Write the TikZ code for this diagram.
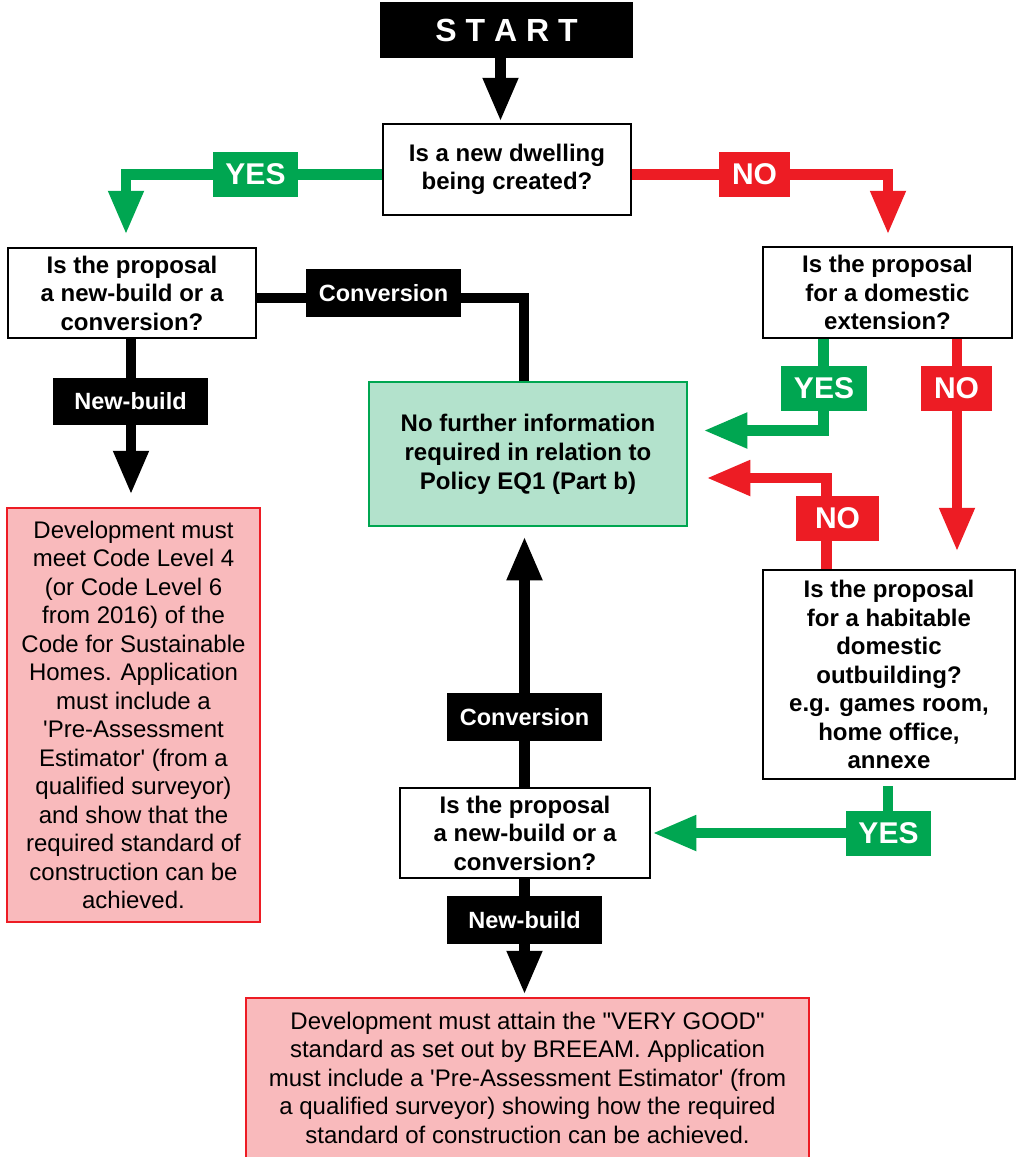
\documentclass[tikz,border=0pt]{standalone}
\usepackage{fontspec}
\newfontfamily\af{Liberation Sans}
\usetikzlibrary{arrows.meta}
\definecolor{gr}{RGB}{0,166,81}
\definecolor{rd}{RGB}{237,28,36}
\definecolor{pinkf}{RGB}{249,186,188}
\definecolor{mint}{RGB}{179,226,204}
\begin{document}
\begin{tikzpicture}[x=1pt,y=-1pt,font=\af,
  qbox/.style={draw=black,line width=2.5pt,fill=white,align=center,inner sep=0pt,
    font=\af\bfseries\fontsize{24}{28.5}\selectfont},
  pbox/.style={draw=rd,line width=2.5pt,fill=pinkf,align=center,inner sep=0pt,
    font=\af\fontsize{24}{28.5}\selectfont},
  gbox/.style={draw=gr,line width=2.5pt,fill=mint,align=center,inner sep=0pt,
    font=\af\bfseries\fontsize{24}{29}\selectfont},
  startbox/.style={fill=black,text=white,inner sep=0pt,
    font=\af\bfseries\fontsize{32}{36}\selectfont},
  lab/.style={fill=black,text=white,inner sep=0pt,
    font=\af\bfseries\fontsize{23.5}{28}\selectfont},
  yn/.style={text=white,inner sep=0pt,
    font=\af\bfseries\fontsize{30}{34}\selectfont},
  conn/.style={line width=10.5pt},
  tip/.style={-{Triangle[width=33pt,length=44pt]}}
]
\useasboundingbox (0,0) rectangle (1020,1157);
\clip (0,0) rectangle (1020,1157);
\fill[white] (0,0) rectangle (1020,1157);

% main boxes
\node[startbox,minimum width=253pt,minimum height=56pt] (start) at (506.5,30) {S T A R T};
\node[qbox,minimum width=248pt,minimum height=91pt] (q1) at (507,169.5) {Is a new dwelling\\being created?};
\node[qbox,minimum width=248pt,minimum height=90pt] (q2) at (132,293) {Is the proposal\\a new-build or a\\conversion?};
\node[qbox,minimum width=249pt,minimum height=91pt] (q3) at (887.5,292.5) {Is the proposal\\for a domestic\\extension?};
\node[gbox,minimum width=318pt,minimum height=144pt] (green) at (528,454) {No further information\\required in relation to\\Policy EQ1 (Part b)};
\node[qbox,minimum width=252pt,minimum height=209pt] (q4) at (889,674.5) {Is the proposal\\for a habitable\\domestic\\outbuilding?\\e.g. games room,\\home office,\\annexe};
\node[qbox,minimum width=250pt,minimum height=90pt] (q5) at (525,833) {Is the proposal\\a new-build or a\\conversion?};
\node[pbox,minimum width=253pt,minimum height=414pt] (pinkL) at (133.5,715) {Development must\\meet Code Level 4\\(or Code Level 6\\from 2016) of the\\Code for Sustainable\\Homes. Application\\must include a\\'Pre-Assessment\\Estimator' (from a\\qualified surveyor)\\and show that the\\required standard of\\construction can be\\achieved.};
\node[pbox,minimum width=563pt,minimum height=173pt] (pinkB) at (527.5,1084.5) {};
\node[align=center,inner sep=0pt,font=\af\fontsize{24}{28.5}\selectfont] (pinkBtext) at (527.5,1077.5) {Development must attain the "VERY GOOD"\\standard as set out by BREEAM. Application\\must include a 'Pre-Assessment Estimator' (from\\a qualified surveyor) showing how the required\\standard of construction can be achieved.};

% connectors
\draw[conn,tip] ([xshift=-6pt]start.south) -- ([xshift=-6.5pt,yshift=1pt]q1.north);
\draw[conn,gr,tip] ([yshift=-5pt]q1.west) -| ([xshift=-6pt,yshift=12pt]q2.north);
\draw[conn,rd,tip] ([yshift=-5pt]q1.east) -| ([xshift=0.5pt,yshift=11pt]q3.north);
\draw[conn,tip] ([xshift=-1pt]q2.south) -- ([xshift=-2.5pt,yshift=12pt]pinkL.north);
\draw[conn] ([xshift=-4pt]green.north) |- ([yshift=-5pt]q2.east);
\draw[conn,gr,tip] ([xshift=-64pt]q3.south) |- ([xshift=15pt,yshift=23.5pt]green.east);
\draw[conn,rd,tip] ([xshift=69.5pt]q3.south) -- ([xshift=68pt,yshift=17pt]q4.north);
\draw[conn,rd,tip] ([xshift=-62.5pt]q4.north) |- ([xshift=18pt,yshift=-24pt]green.east);
\draw[conn,gr,tip] ([xshift=-1pt,yshift=-6pt]q4.south) |- ([xshift=1pt]q5.east);
\draw[conn,tip] ([xshift=-0.5pt]q5.north) -- ([xshift=-3.5pt,yshift=-9pt]green.south);
\draw[conn,tip] ([xshift=-0.5pt]q5.south) -- ([xshift=-3pt,yshift=2pt]pinkB.north);

% labels
\node[yn,fill=gr,minimum width=85pt,minimum height=45pt] (yes1) at (255.5,174.5) {YES};
\node[yn,fill=rd,minimum width=71pt,minimum height=45pt] (no1) at (754.5,174.5) {NO};
\node[lab,minimum width=155pt,minimum height=48pt] (convT) at (383.5,293) {Conversion};
\node[lab,minimum width=155pt,minimum height=47pt] (nbL) at (130.5,401.5) {New-build};
\node[yn,fill=gr,minimum width=86pt,minimum height=45pt] (yes2) at (824,388.5) {YES};
\node[yn,fill=rd,minimum width=71pt,minimum height=45pt] (no2) at (956.5,388.5) {NO};
\node[yn,fill=rd,minimum width=83pt,minimum height=45pt] (no3) at (837.5,518.5) {NO};
\node[lab,minimum width=155pt,minimum height=48pt] (convB) at (524.5,717) {Conversion};
\node[yn,fill=gr,minimum width=85pt,minimum height=45pt] (yes3) at (888.5,833.5) {YES};
\node[lab,minimum width=155pt,minimum height=48pt] (nbB) at (524.5,920) {New-build};
\end{tikzpicture}
\end{document}
